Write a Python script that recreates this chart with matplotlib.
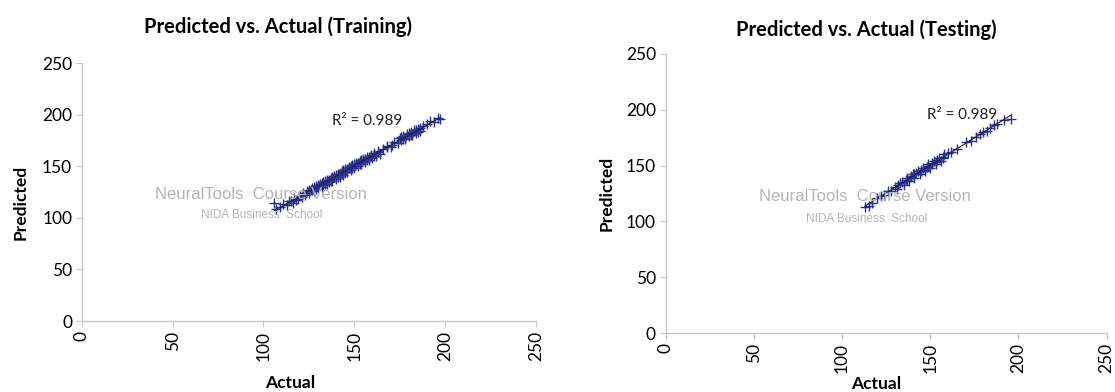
import numpy as np
import matplotlib
matplotlib.use('Agg')
import matplotlib.pyplot as plt

plt.rcParams['font.family'] = ['Lato', 'DejaVu Sans']

# Training set: actual vs predicted
train_actual = [106, 107, 109, 111, 113, 115, 116, 117, 118, 120, 121, 122, 123, 124, 125, 126,
                127, 128, 129, 130, 131, 132, 133, 134, 135, 136, 137, 138, 139, 140, 141,
                142, 143, 144, 145, 146, 147, 148, 149, 150, 151, 152, 153, 154, 155, 156,
                157, 158, 159, 160, 161, 162, 163, 164, 166, 168, 170, 172, 174, 175, 176,
                177, 178, 179, 180, 181, 182, 183, 184, 185, 186, 188, 190, 192, 194, 196,
                197, 130, 132, 134, 136, 138, 140, 142, 144, 146, 148, 150, 152, 154, 156,
                145, 135, 125, 127, 129, 131, 133, 135, 137, 139, 141, 143, 145, 147, 149,
                151, 153, 155, 157, 159, 161, 163, 128, 133, 138, 143, 148, 153, 158, 176,
                178, 180, 182, 184, 186, 177, 181, 185, 119, 114, 168, 171]
train_pred = [114, 109, 111, 113, 112, 116, 114, 119, 117, 121, 120, 124, 122, 126, 124, 127,
              129, 126, 131, 129, 133, 130, 134, 136, 133, 137, 139, 136, 141, 138, 143,
              140, 145, 142, 147, 144, 149, 146, 151, 148, 153, 150, 155, 152, 157, 154,
              159, 156, 161, 158, 163, 160, 165, 162, 167, 170, 169, 174, 173, 177, 175,
              179, 176, 181, 179, 183, 180, 185, 182, 186, 184, 189, 191, 194, 193, 197,
              196, 132, 134, 133, 135, 140, 142, 143, 146, 147, 149, 152, 153, 156, 157,
              144, 137, 127, 127, 128, 132, 132, 136, 136, 140, 140, 144, 144, 148, 148,
              152, 152, 156, 156, 160, 160, 164, 130, 135, 139, 143, 150, 154, 159, 178,
              177, 182, 181, 185, 187, 176, 180, 183, 118, 116, 169, 171]

# Testing set
test_actual = [113, 115, 117, 120, 122, 124, 126, 128, 130, 131, 132, 134, 135, 136, 137,
               138, 139, 140, 141, 142, 143, 144, 145, 146, 147, 148, 149, 150, 151, 152,
               153, 154, 155, 156, 157, 158, 160, 162, 165, 170, 173, 176, 178, 180, 182,
               184, 186, 188, 192, 196, 133, 137, 141, 145, 149, 153, 157, 139, 147, 151]
test_pred = [113, 114, 116, 121, 123, 124, 127, 127, 131, 129, 133, 135, 133, 137, 139,
             136, 140, 142, 139, 143, 145, 142, 146, 148, 145, 149, 151, 148, 152, 154,
             151, 155, 157, 154, 158, 160, 161, 162, 165, 171, 172, 176, 178, 180, 181,
             184, 186, 187, 191, 192, 134, 137, 142, 145, 150, 153, 157, 141, 146, 151]

ticks = [0, 50, 100, 150, 200, 250]
r2_text = 'R² = 0.989'

W, H = 1115, 392
fig = plt.figure(figsize=(W / 100, H / 100), dpi=100)
ax1 = fig.add_axes([0.0735, 0.181, 0.407, 0.658])
ax2 = fig.add_axes([0.597, 0.1505, 0.3955, 0.712])

# title / xlabel positions in pixels (x centre, y from top)
panels = [
    (ax1, train_actual, train_pred, 'Predicted vs. Actual (Training)', (138, 190), 0.394,
     (278, 27), (290, 383), (21, 202)),
    (ax2, test_actual, test_pred, 'Predicted vs. Actual (Testing)', (148, 192), 0.453,
     (866, 30), (876, 384), (607, 193)),
]

for ax, xs, ys, title, r2_pos, wm, tpos, xlpos, ylpos in panels:
    ax.scatter(xs, ys, marker='+', s=55, color='#2b2f95', linewidths=1.0, zorder=3)
    k, b = np.polyfit(xs, ys, 1)
    lx = np.array([min(xs), max(xs)])
    ax.plot(lx, k * lx + b, color='#222222', lw=0.8, zorder=4)

    ax.set_xlim(0, 250)
    ax.set_ylim(0, 250)
    ax.set_xticks(ticks)
    ax.set_yticks(ticks)
    ax.tick_params(axis='x', labelrotation=90, labelsize=12.5, length=4, color='#c8c8c8', pad=3)
    ax.tick_params(axis='y', labelsize=12.5, length=4, color='#c8c8c8', pad=3)
    for side in ['top', 'right']:
        ax.spines[side].set_visible(False)
    for side in ['left', 'bottom']:
        ax.spines[side].set_color('#c8c8c8')
        ax.spines[side].set_linewidth(1.0)

    fig.text(tpos[0] / W, 1 - tpos[1] / H, title, ha='center', va='center',
             fontsize=14.5, fontweight='bold')
    fig.text(xlpos[0] / W, 1 - xlpos[1] / H, 'Actual', ha='center', va='center',
             fontsize=12.5, fontweight='bold')
    fig.text(ylpos[0] / W, 1 - ylpos[1] / H, 'Predicted', ha='center', va='center',
             rotation=90, fontsize=12.5, fontweight='bold')
    ax.text(r2_pos[0], r2_pos[1], r2_text, fontsize=11, color='#222222', zorder=5)

    ax.text(wm, 0.49, 'NeuralTools  Course Version', transform=ax.transAxes, ha='center',
            va='center', fontsize=12, color='#b4b4b4', family='Liberation Sans', zorder=5)
    ax.text(wm + 0.002, 0.41, 'NIDA Business  School', transform=ax.transAxes,
            ha='center', va='center', fontsize=8.5, color='#b4b4b4', family='Liberation Sans', zorder=5)

fig.savefig('out.png', dpi=100, facecolor='white')
